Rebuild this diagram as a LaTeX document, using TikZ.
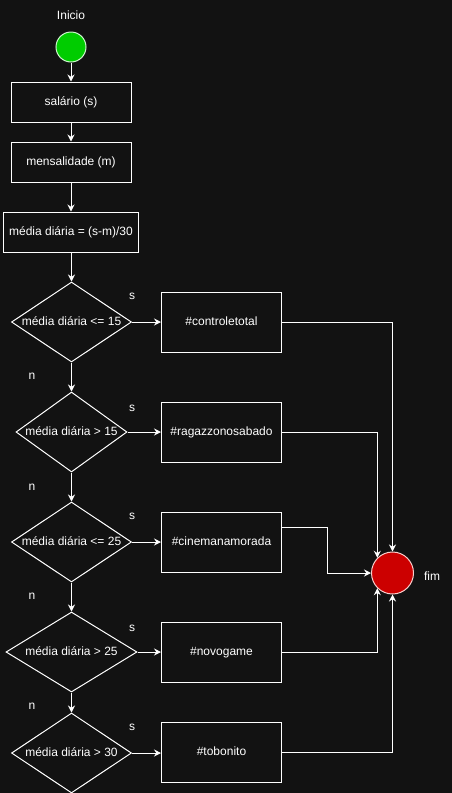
\documentclass[tikz,border=0pt]{standalone}
\usepackage{fontspec}
\setmainfont{Liberation Sans}
\usepackage{tikz}
\usetikzlibrary{arrows.meta}
\usetikzlibrary{shapes.geometric}

\definecolor{bgdark}{HTML}{121212}
\definecolor{startgreen}{HTML}{00CC00}
\definecolor{endred}{HTML}{CC0000}
\definecolor{endrim}{HTML}{F8CECC}

\begin{document}
\begin{tikzpicture}[x=1pt,y=-1pt,
    every node/.style={text=white,font=\fontsize{12}{14}\selectfont,text height=9pt,text depth=3pt},
    box/.style={draw=white,line width=1pt,minimum width=120pt,minimum height=40pt,inner sep=0pt},
    hashbox/.style={box,minimum height=60pt},
    decision/.style={draw=white,line width=1pt,shape=diamond,inner sep=0pt,minimum height=80pt,shape aspect=1.5},
    flow/.style={draw=white,line width=1pt,-{Stealth[length=7pt,width=7pt]}},
    link/.style={draw=white,line width=1pt,-{Stealth[length=7pt,width=7pt]}}]
\fill[bgdark] (0,0) rectangle (452,793);
\useasboundingbox (0,0) rectangle (452,793);
% start / inputs
\node (inicio) at (71,16) {Inicio};
\node[circle,fill=startgreen,draw=white!80!startgreen,line width=1pt,minimum size=30pt,inner sep=0pt,text height=,text depth=] (start) at (71,47) {};
\node[box] (sal) at (71,102) {salário (s)};
\node[box] (mens) at (71,162) {mensalidade (m)};
\node[box,minimum width=135pt] (med) at (71,232) {média diária = (s-m)/30};
% decisions
\node[decision,minimum width=120pt] (d1) at (71.5,322) {média diária <= 15};
\node[decision,minimum width=111pt,shape aspect=1.39] (d2) at (71.5,432) {média diária > 15};
\node[decision,minimum width=120pt] (d3) at (71.5,542) {média diária <= 25};
\node[decision,minimum width=131pt,shape aspect=1.64] (d4) at (71.5,652) {média diária > 25};
\node[decision,minimum width=120pt] (d5) at (71.5,753) {média diária > 30};
% outcomes
\node[hashbox] (ctrl) at (221.5,322) {\#controletotal};
\node[hashbox] (rag) at (221.5,432) {\#ragazzonosabado};
\node[hashbox] (cin) at (221.5,542) {\#cinemanamorada};
\node[hashbox] (nov) at (221.5,652) {\#novogame};
\node[hashbox] (tob) at (221.5,752) {\#tobonito};
% end
\node[circle,fill=endred,draw=endrim,line width=1pt,minimum size=42pt,inner sep=0pt,text height=,text depth=] (fim) at (392.5,573) {};
\node (fimlbl) at (432,577) {fim};
% branch labels
\node (s1) at (132,296) {s};
\node (s2) at (132,408) {s};
\node (s3) at (132,516) {s};
\node (s4) at (132,628) {s};
\node (s5) at (132,727) {s};
\node (n1) at (32,376) {n};
\node (n2) at (32,487) {n};
\node (n3) at (32,596) {n};
\node (n4) at (32,706) {n};
% main column
\draw[flow] (start) -- (sal);
\draw[flow] (sal) -- (mens);
\draw[flow] (mens) -- (med);
\draw[flow] (med.south -| d1.north) -- (d1.north);
\draw[flow] (d1) -- (d2);
\draw[flow] (d2) -- (d3);
\draw[flow] (d3) -- (d4);
\draw[flow] (d4) -- (d5);
\draw[flow] (d1) -- (ctrl);
\draw[flow] (d2) -- (rag);
\draw[flow] (d3) -- (cin);
\draw[flow] (d4) -- (nov);
\draw[flow] (d5.east) -- (tob.west |- d5.east);
% to fim
\draw[link] (ctrl.east) -| (fim.north);
\draw[link] (rag.east) -| (fim.north west);
\draw[link] ([yshift=15pt]cin.east) -- ++(45,0) |- (fim.west);
\draw[link] (nov.east) -| (fim.south west);
\draw[link] (tob.east) -| (fim.south);
\end{tikzpicture}
\end{document}
